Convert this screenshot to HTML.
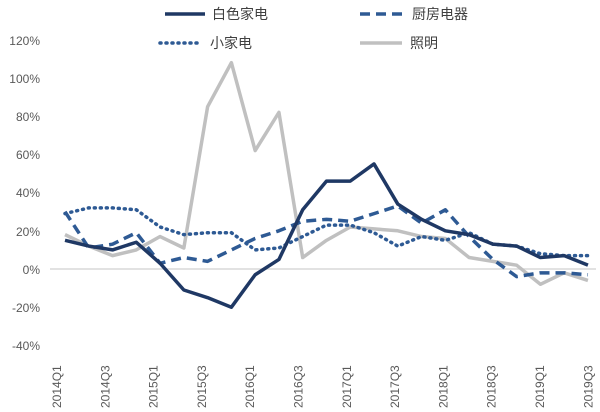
<!DOCTYPE html>
<html><head><meta charset="utf-8"><style>
body{margin:0;background:#fff}
svg{display:block}
text{font-family:"Liberation Sans","Noto Sans CJK SC",sans-serif}
</style></head><body>
<svg id="c" width="600" height="412" xmlns="http://www.w3.org/2000/svg">
<line x1="50" y1="269" x2="596" y2="269" stroke="#d9d9d9" stroke-width="1.5"/>
<g font-size="12" fill="#595959" text-anchor="end">
<text x="40" y="45">120%</text><text x="40" y="83">100%</text><text x="40" y="121">80%</text>
<text x="40" y="159">60%</text><text x="40" y="197">40%</text><text x="40" y="236">20%</text>
<text x="40" y="274">0%</text><text x="40" y="312">-20%</text><text x="40" y="350">-40%</text>
</g>
<g id="xl" font-size="12" fill="#595959"></g>
<g id="ln"></g>
<line x1="165" y1="14" x2="205" y2="14" stroke="#1f3864" stroke-width="3.5"/>
<text x="212" y="19" font-size="14" fill="#404040">白色家电</text>
<line x1="360" y1="14" x2="402" y2="14" stroke="#2e5a94" stroke-width="3.5" stroke-dasharray="10,6"/>
<text x="412" y="19" font-size="14" fill="#404040">厨房电器</text>
<line x1="160" y1="43" x2="202" y2="43" stroke="#2e5a94" stroke-width="3.5" stroke-dasharray="1,5" stroke-linecap="round"/>
<text x="210" y="48" font-size="14" fill="#404040">小家电</text>
<line x1="360" y1="43" x2="402" y2="43" stroke="#c0c0c0" stroke-width="3.5"/>
<text x="410" y="48" font-size="14" fill="#404040">照明</text>
</svg>
<script>
var ns="http://www.w3.org/2000/svg";
function X(i){return 65+i*23.77}
function Y(v){return 269-v*1.91}
var S=[
 {d:[15,12,10,14,3,-11,-15,-20,-3,5,31,46,46,55,34,26,20,18,13,12,6,7,2],c:"#1f3864",da:""},
 {d:[30,11,13,19,3,6,4,10,16,20,25,26,25,29,33,24,31,17,5,-4,-2,-2,-3],c:"#2e5a94",da:"10,6"},
 {d:[29,32,32,31,22,18,19,19,10,11,17,23,23,19,12,17,15,19,13,12,8,7,7],c:"#2e5a94",da:"1,5",cap:1},
 {d:[18,12,7,10,17,11,85,108,62,82,6,15,22,21,20,17,16,6,4,2,-8,-2,-6],c:"#c0c0c0",da:""}
];
var g=document.getElementById("ln");
[3,1,2,0].forEach(function(k){var s=S[k];var p=document.createElementNS(ns,"polyline");
p.setAttribute("points",s.d.map(function(v,i){return X(i)+","+Y(v)}).join(" "));
p.setAttribute("fill","none");p.setAttribute("stroke",s.c);p.setAttribute("stroke-width","3.5");
p.setAttribute("stroke-linejoin","round");if(s.da)p.setAttribute("stroke-dasharray",s.da);
if(s.cap)p.setAttribute("stroke-linecap","round");g.appendChild(p);});
var xl=document.getElementById("xl");
var labs=["2014Q1","2014Q3","2015Q1","2015Q3","2016Q1","2016Q3","2017Q1","2017Q3","2018Q1","2018Q3","2019Q1","2019Q3"];
labs.forEach(function(l,j){var x=57+j*48.3;var t=document.createElementNS(ns,"text");
t.setAttribute("transform","translate("+(x+4)+",408) rotate(-90)");t.textContent=l;xl.appendChild(t);});
</script>
</body></html>
